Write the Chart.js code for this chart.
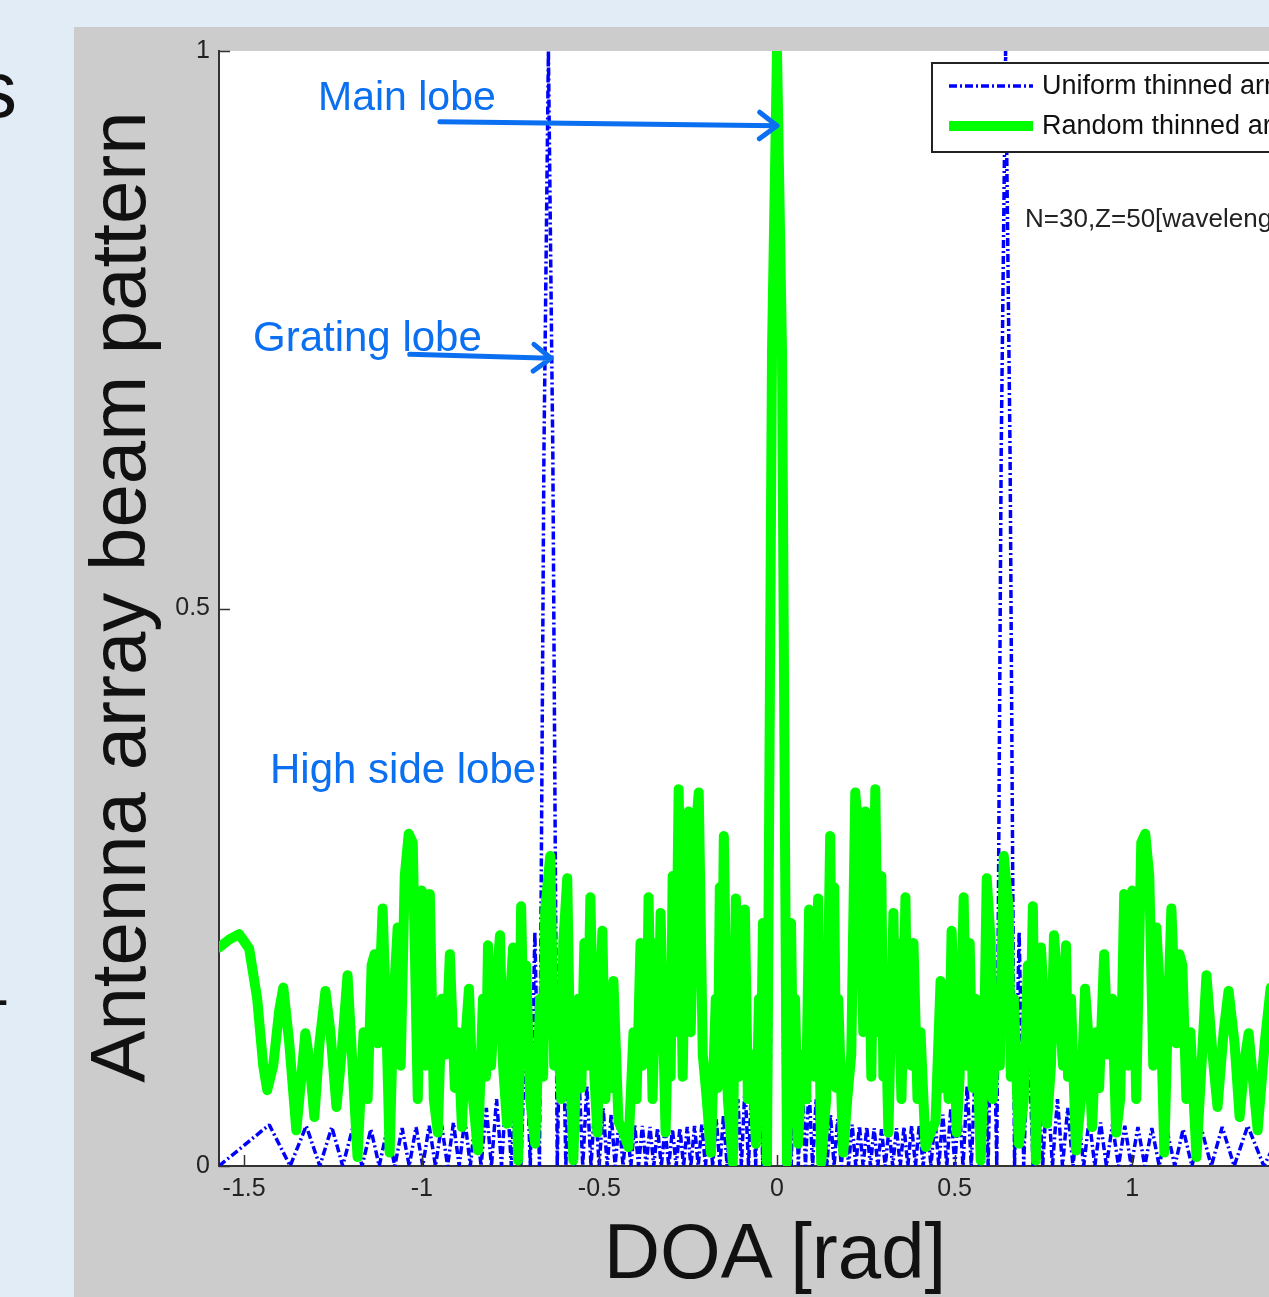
<!DOCTYPE html>
<html>
<head>
<meta charset="utf-8">
<script src="https://cdn.jsdelivr.net/npm/chart.js@4.4.1/dist/chart.umd.min.js"></script>
<style>
    html, body { margin: 0; padding: 0; overflow: hidden; }
    body {
        width: 1269px; height: 1297px; position: relative;
        background: #e2ecf6;
        font-family: "Liberation Sans", Arial, sans-serif;
    }
    #panel { position: absolute; left: 74px; top: 27px; width: 1326px; height: 1270px; background: #cccccc; }
    #beam { position: absolute; left: 0; top: 0; }
    .txt { position: absolute; white-space: nowrap; line-height: 1; }
    .note { color: #0a6ff0; }
    #ytitle {
        left: -432px; top: 558px; width: 1100px; height: 78px;
        font-size: 78px; text-align: center; color: #111;
        transform: rotate(-90deg);
    }
    #xtitle { left: 475px; top: 1212px; width: 600px; font-size: 78px; text-align: center; color: #111; }
</style>
</head>
<body>
<div class="txt" style="left:-23px; top:50px; font-size:80px; color:#111;">s</div>
<div class="txt" style="left:-11px; top:968px; font-size:60px; color:#111;">-</div>

<div id="panel">
    <canvas id="beam" width="1326" height="1270"></canvas>
</div>

<div class="txt" id="ytitle">Antenna array beam pattern</div>
<div class="txt" id="xtitle">DOA [rad]</div>
<div class="txt note" style="left:318px; top:76px; font-size:41px;">Main lobe</div>
<div class="txt note" style="left:253px; top:316px; font-size:42px;">Grating lobe</div>
<div class="txt note" style="left:270px; top:748px; font-size:42px;">High side lobe</div>
<div class="txt" style="left:1025px; top:205px; font-size:26px; color:#222;">N=30,Z=50[wavelength]</div>

<script>
// DOA axis ticks (rad) and beam pattern ticks
const doaTicks = [-1.5, -1, -0.5, 0, 0.5, 1, 1.5]
const gainTicks = [0, 0.5, 1]

// Uniform thinned array: nulls and side lobe peaks
const uniformDoa = [
    -1.5708, -1.4293, -1.3705, -1.3252, -1.2870, -1.2532, -1.2226, -1.1944, -1.1681, -1.1433,
    -1.1198, -1.0973, -1.0759, -1.0552, -1.0353, -1.0160, -0.9973, -0.9791, -0.9614, -0.9442,
    -0.9273, -0.9108, -0.8947, -0.8788, -0.8633, -0.8481, -0.8331, -0.8183, -0.8038, -0.7895,
    -0.7754, -0.7615, -0.7478, -0.7342, -0.7208, -0.7076, -0.6945, -0.6816, -0.6687, -0.6561,
    -0.6435, -0.6311, -0.6187, -0.6065, -0.5944, -0.5824, -0.5704, -0.5586, -0.5469, -0.5352,
    -0.5236, -0.5121, -0.5007, -0.4893, -0.4780, -0.4668, -0.4556, -0.4445, -0.4334, -0.4225,
    -0.4115, -0.4006, -0.3898, -0.3790, -0.3683, -0.3576, -0.3469, -0.3363, -0.3257, -0.3152,
    -0.3047, -0.2942, -0.2838, -0.2734, -0.2630, -0.2527, -0.2424, -0.2321, -0.2218, -0.2116,
    -0.2014, -0.1912, -0.1810, -0.1708, -0.1607, -0.1506, -0.1405, -0.1304, -0.1203, -0.1102,
    -0.1002, -0.0901, -0.0801, -0.0701, -0.0600, -0.0500, -0.0400, -0.0300, -0.0200, -0.0100,
    0,
    0.0100, 0.0200, 0.0300, 0.0400, 0.0500, 0.0600, 0.0701, 0.0801, 0.0901, 0.1002,
    0.1102, 0.1203, 0.1304, 0.1405, 0.1506, 0.1607, 0.1708, 0.1810, 0.1912, 0.2014,
    0.2116, 0.2218, 0.2321, 0.2424, 0.2527, 0.2630, 0.2734, 0.2838, 0.2942, 0.3047,
    0.3152, 0.3257, 0.3363, 0.3469, 0.3576, 0.3683, 0.3790, 0.3898, 0.4006, 0.4115,
    0.4225, 0.4334, 0.4445, 0.4556, 0.4668, 0.4780, 0.4893, 0.5007, 0.5121, 0.5236,
    0.5352, 0.5469, 0.5586, 0.5704, 0.5824, 0.5944, 0.6065, 0.6187, 0.6311, 0.6435,
    0.6561, 0.6687, 0.6816, 0.6945, 0.7076, 0.7208, 0.7342, 0.7478, 0.7615, 0.7754,
    0.7895, 0.8038, 0.8183, 0.8331, 0.8481, 0.8633, 0.8788, 0.8947, 0.9108, 0.9273,
    0.9442, 0.9614, 0.9791, 0.9973, 1.0160, 1.0353, 1.0552, 1.0759, 1.0973, 1.1198,
    1.1433, 1.1681, 1.1944, 1.2226, 1.2532, 1.2870, 1.3252, 1.3705, 1.4293, 1.5708
]
const uniformPattern = [
    0, 0.037, 0, 0.036, 0, 0.035, 0, 0.034, 0, 0.033,
    0, 0.033, 0, 0.034, 0, 0.035, 0, 0.036, 0, 0.037,
    0, 0.039, 0, 0.042, 0, 0.046, 0, 0.052, 0, 0.060,
    0, 0.072, 0, 0.090, 0, 0.130, 0, 0.210, 0, 0.640,
    1.000, 0.640, 0, 0.210, 0, 0.130, 0, 0.090, 0, 0.072,
    0, 0.060, 0, 0.052, 0, 0.046, 0, 0.042, 0, 0.039,
    0, 0.037, 0, 0.036, 0, 0.035, 0, 0.034, 0, 0.033,
    0, 0.033, 0, 0.034, 0, 0.035, 0, 0.036, 0, 0.037,
    0, 0.039, 0, 0.042, 0, 0.046, 0, 0.052, 0, 0.060,
    0, 0.072, 0, 0.090, 0, 0.130, 0, 0.210, 0, 0.640,
    1.000,
    0.640, 0, 0.210, 0, 0.130, 0, 0.090, 0, 0.072, 0,
    0.060, 0, 0.052, 0, 0.046, 0, 0.042, 0, 0.039, 0,
    0.037, 0, 0.036, 0, 0.035, 0, 0.034, 0, 0.033, 0,
    0.033, 0, 0.034, 0, 0.035, 0, 0.036, 0, 0.037, 0,
    0.039, 0, 0.042, 0, 0.046, 0, 0.052, 0, 0.060, 0,
    0.072, 0, 0.090, 0, 0.130, 0, 0.210, 0, 0.640, 1.000,
    0.640, 0, 0.210, 0, 0.130, 0, 0.090, 0, 0.072, 0,
    0.060, 0, 0.052, 0, 0.046, 0, 0.042, 0, 0.039, 0,
    0.037, 0, 0.036, 0, 0.035, 0, 0.034, 0, 0.033, 0,
    0.033, 0, 0.034, 0, 0.035, 0, 0.036, 0, 0.037, 0
]

// Random thinned array: peaks and dips
const randomDoa = [
    -1.5708, -1.5424, -1.5141, -1.4859, -1.4633, -1.4463, -1.4350, -1.4181, -1.4011, -1.3898,
    -1.3729, -1.3531, -1.3390, -1.3277, -1.3164, -1.3023, -1.2881, -1.2712, -1.2571, -1.2401,
    -1.2260, -1.2090, -1.1949, -1.1808, -1.1638, -1.1525, -1.1412, -1.1328, -1.1243, -1.1102,
    -1.0989, -1.0904, -1.0791, -1.0678, -1.0593, -1.0480, -1.0367, -1.0254, -1.0113, -1.0000,
    -0.9887, -0.9774, -0.9661, -0.9548, -0.9435, -0.9322, -0.9209, -0.9068, -0.8983, -0.8870,
    -0.8757, -0.8672, -0.8559, -0.8418, -0.8277, -0.8192, -0.8136, -0.8051, -0.7910, -0.7797,
    -0.7712, -0.7599, -0.7514, -0.7429, -0.7288, -0.7203, -0.7119, -0.7062, -0.6949, -0.6808,
    -0.6667, -0.6582, -0.6525, -0.6384, -0.6271, -0.6158, -0.6073, -0.6017, -0.5904, -0.5819,
    -0.5734, -0.5593, -0.5508, -0.5424, -0.5339, -0.5254, -0.5141, -0.5056, -0.4972, -0.4915,
    -0.4831, -0.4718, -0.4661, -0.4605, -0.4463, -0.4322, -0.4181, -0.4040, -0.3955, -0.3842,
    -0.3785, -0.3729, -0.3672, -0.3616, -0.3503, -0.3390, -0.3333, -0.3277, -0.3136, -0.3051,
    -0.2994, -0.2938, -0.2853, -0.2768, -0.2655, -0.2571, -0.2486, -0.2429, -0.2373, -0.2288,
    -0.2203, -0.2090, -0.1977, -0.1864, -0.1723, -0.1667, -0.1610, -0.1554, -0.1497, -0.1384,
    -0.1243, -0.1158, -0.1073, -0.1017, -0.0960, -0.0904, -0.0819, -0.0706, -0.0593, -0.0508,
    -0.0452, -0.0395, -0.0282, -0.0141, 0,
    0.0141, 0.0282, 0.0395, 0.0452,
    0.0508, 0.0593, 0.0706, 0.0819, 0.0904, 0.0960, 0.1017, 0.1073, 0.1158, 0.1243,
    0.1384, 0.1497, 0.1554, 0.1610, 0.1667, 0.1723, 0.1864, 0.1977, 0.2090, 0.2203,
    0.2288, 0.2373, 0.2429, 0.2486, 0.2571, 0.2655, 0.2768, 0.2853, 0.2938, 0.2994,
    0.3051, 0.3136, 0.3277, 0.3333, 0.3390, 0.3503, 0.3616, 0.3672, 0.3729, 0.3785,
    0.3842, 0.3955, 0.4040, 0.4181, 0.4322, 0.4463, 0.4605, 0.4661, 0.4718, 0.4831,
    0.4915, 0.4972, 0.5056, 0.5141, 0.5254, 0.5339, 0.5424, 0.5508, 0.5593, 0.5734,
    0.5819, 0.5904, 0.6017, 0.6073, 0.6158, 0.6271, 0.6384, 0.6525, 0.6582, 0.6667,
    0.6808, 0.6949, 0.7062, 0.7119, 0.7203, 0.7288, 0.7429, 0.7514, 0.7599, 0.7712,
    0.7797, 0.7910, 0.8051, 0.8136, 0.8192, 0.8277, 0.8418, 0.8559, 0.8672, 0.8757,
    0.8870, 0.8983, 0.9068, 0.9209, 0.9322, 0.9435, 0.9548, 0.9661, 0.9774, 0.9887,
    1.0000, 1.0113, 1.0254, 1.0367, 1.0480, 1.0593, 1.0678, 1.0791, 1.0904, 1.0989,
    1.1102, 1.1243, 1.1328, 1.1412, 1.1525, 1.1638, 1.1808, 1.1949, 1.2090, 1.2260,
    1.2401, 1.2571, 1.2712, 1.2881, 1.3023, 1.3164, 1.3277, 1.3390, 1.3531, 1.3729,
    1.3898, 1.4011, 1.4181, 1.4350, 1.4463, 1.4633, 1.4859, 1.5141, 1.5424, 1.5708
]
const randomPattern = [
    0.196, 0.203, 0.208, 0.195, 0.150, 0.090, 0.068, 0.090, 0.140, 0.160,
    0.110, 0.032, 0.080, 0.119, 0.095, 0.044, 0.110, 0.157, 0.120, 0.053,
    0.100, 0.171, 0.090, 0.008, 0.120, 0.060, 0.180, 0.190, 0.110, 0.231,
    0.120, 0.012, 0.150, 0.214, 0.090, 0.260, 0.298, 0.290, 0.060, 0.247,
    0.090, 0.244, 0.060, 0.030, 0.150, 0.100, 0.190, 0.070, 0.120, 0.035,
    0.120, 0.159, 0.060, 0.014, 0.150, 0.080, 0.198, 0.090, 0.160, 0.207,
    0.090, 0.038, 0.150, 0.196, 0.005, 0.233, 0.100, 0.180, 0.060, 0.020,
    0.150, 0.080, 0.230, 0.278, 0.090, 0.120, 0.060, 0.200, 0.258, 0.090,
    0.005, 0.150, 0.070, 0.200, 0.090, 0.241, 0.080, 0.030, 0.160, 0.211,
    0.060, 0.140, 0.070, 0.166, 0.040, 0.030, 0.017, 0.120, 0.060, 0.200,
    0.090, 0.170, 0.100, 0.241, 0.060, 0.200, 0.110, 0.227, 0.030, 0.150,
    0.080, 0.260, 0.120, 0.338, 0.080, 0.250, 0.318, 0.120, 0.200, 0.300,
    0.335, 0.100, 0.060, 0.012, 0.150, 0.070, 0.250, 0.120, 0.296, 0.060,
    0.003, 0.240, 0.080, 0.170, 0.090, 0.230, 0.060, 0.100, 0.020, 0.150,
    0.080, 0.218, 0.003, 0.730, 1.000,
    0.730, 0.003, 0.218, 0.080,
    0.150, 0.020, 0.100, 0.060, 0.230, 0.090, 0.170, 0.080, 0.240, 0.003,
    0.060, 0.296, 0.120, 0.250, 0.070, 0.150, 0.012, 0.060, 0.100, 0.335,
    0.300, 0.200, 0.120, 0.318, 0.250, 0.080, 0.338, 0.120, 0.260, 0.080,
    0.150, 0.030, 0.227, 0.110, 0.200, 0.060, 0.241, 0.100, 0.170, 0.090,
    0.200, 0.060, 0.120, 0.017, 0.030, 0.040, 0.166, 0.070, 0.140, 0.060,
    0.211, 0.160, 0.030, 0.080, 0.241, 0.090, 0.200, 0.070, 0.150, 0.005,
    0.090, 0.258, 0.200, 0.060, 0.120, 0.090, 0.278, 0.230, 0.080, 0.150,
    0.020, 0.060, 0.180, 0.100, 0.233, 0.005, 0.196, 0.150, 0.038, 0.090,
    0.207, 0.160, 0.090, 0.198, 0.080, 0.150, 0.014, 0.060, 0.159, 0.120,
    0.035, 0.120, 0.070, 0.190, 0.100, 0.150, 0.030, 0.060, 0.244, 0.090,
    0.247, 0.060, 0.290, 0.298, 0.260, 0.090, 0.214, 0.150, 0.012, 0.120,
    0.231, 0.110, 0.190, 0.180, 0.060, 0.120, 0.008, 0.090, 0.171, 0.100,
    0.053, 0.120, 0.157, 0.110, 0.044, 0.095, 0.119, 0.080, 0.032, 0.110,
    0.160, 0.140, 0.090, 0.068, 0.090, 0.150, 0.195, 0.208, 0.203, 0.196
]

// annotation arrows, in data units (DOA, gain)
const arrows = [
    { from: [-0.949, 0.9365], to: [0.0, 0.933] },
    { from: [-1.034, 0.728], to: [-0.636, 0.7245] }
]

const beamChart = {
    noteColor: '#0a6ff0',

    init: function () {
        Chart.defaults.font.family = '"Liberation Sans", Arial, sans-serif'
        Chart.defaults.color = '#222'
        this.initChart()
    },

    points: function (xs, ys) {
        return xs.map((x, i) => ({ x: x, y: ys[i] }))
    },

    drawTicks: function (chart) {
        const { ctx, chartArea } = chart
        const xs = chart.scales.x
        const ys = chart.scales.y
        ctx.save()
        ctx.strokeStyle = '#333'
        ctx.lineWidth = 1.5
        ctx.beginPath()
        gainTicks.forEach(v => {
            const y = Math.round(ys.getPixelForValue(v)) + 0.5
            ctx.moveTo(chartArea.left, y)
            ctx.lineTo(chartArea.left + 11, y)
        })
        doaTicks.forEach(v => {
            const x = Math.round(xs.getPixelForValue(v)) + 0.5
            ctx.moveTo(x, chartArea.bottom)
            ctx.lineTo(x, chartArea.bottom - 11)
        })
        ctx.stroke()
        ctx.restore()
    },

    drawArrows: function (chart) {
        const ctx = chart.ctx
        const xs = chart.scales.x
        const ys = chart.scales.y
        ctx.save()
        ctx.strokeStyle = this.noteColor
        ctx.lineWidth = 5
        ctx.lineCap = 'round'
        ctx.lineJoin = 'round'
        arrows.forEach(a => {
            const x0 = xs.getPixelForValue(a.from[0])
            const y0 = ys.getPixelForValue(a.from[1])
            const x1 = xs.getPixelForValue(a.to[0])
            const y1 = ys.getPixelForValue(a.to[1])
            const ang = Math.atan2(y1 - y0, x1 - x0)
            const head = 22
            const spread = 0.65
            ctx.beginPath()
            ctx.moveTo(x0, y0)
            ctx.lineTo(x1, y1)
            ctx.moveTo(x1 - head * Math.cos(ang - spread), y1 - head * Math.sin(ang - spread))
            ctx.lineTo(x1, y1)
            ctx.lineTo(x1 - head * Math.cos(ang + spread), y1 - head * Math.sin(ang + spread))
            ctx.stroke()
        })
        ctx.restore()
    },

    drawLegend: function (chart) {
        const ctx = chart.ctx
        const box = { left: 858, top: 36, width: 430, height: 89 }
        ctx.save()
        ctx.fillStyle = '#ffffff'
        ctx.fillRect(box.left, box.top, box.width, box.height)
        ctx.strokeStyle = '#222'
        ctx.lineWidth = 2
        ctx.strokeRect(box.left, box.top, box.width, box.height)
        ctx.font = '27px "Liberation Sans", Arial, sans-serif'
        ctx.textBaseline = 'middle'
        chart.data.datasets.forEach((ds, i) => {
            const y = box.top + 23 + i * 40
            ctx.beginPath()
            ctx.strokeStyle = ds.borderColor
            ctx.lineWidth = ds.borderWidth
            ctx.setLineDash(ds.borderDash || [])
            ctx.moveTo(box.left + 17, y)
            ctx.lineTo(box.left + 101, y)
            ctx.stroke()
            ctx.setLineDash([])
            ctx.fillStyle = '#111'
            ctx.fillText(ds.label, box.left + 110, y + 1)
        })
        ctx.restore()
    },

    initChart: function () {
        const self = this
        const ctx = document.getElementById('beam')
        this.chart = new Chart(ctx, {
            type: 'line',
            data: {
                datasets: [
                    {
                        label: 'Uniform thinned array',
                        data: this.points(uniformDoa, uniformPattern),
                        borderColor: '#0000ff',
                        borderWidth: 3.5,
                        borderDash: [8, 3, 2, 3],
                        borderJoinStyle: 'bevel',
                        pointRadius: 0,
                        tension: 0,
                        clip: 0,
                        order: 1
                    },
                    {
                        label: 'Random thinned array',
                        data: this.points(randomDoa, randomPattern),
                        borderColor: '#00ff00',
                        borderWidth: 10,
                        borderJoinStyle: 'round',
                        borderCapStyle: 'round',
                        pointRadius: 0,
                        tension: 0,
                        clip: 0,
                        order: 0
                    }
                ]
            },
            options: {
                responsive: false,
                animation: false,
                events: [],
                layout: { padding: { top: 21, right: 65, left: 0, bottom: 0 } },
                plugins: {
                    legend: { display: false },
                    tooltip: { enabled: false }
                },
                scales: {
                    x: {
                        type: 'linear',
                        min: -Math.PI / 2,
                        max: Math.PI / 2,
                        z: 1,
                        grid: { display: false, drawTicks: false },
                        border: { display: true, color: '#333', width: 2 },
                        afterBuildTicks: s => { s.ticks = doaTicks.map(v => ({ value: v })) },
                        afterFit: s => { s.height = 131 },
                        ticks: {
                            autoSkip: false,
                            maxRotation: 0,
                            padding: 8,
                            font: { size: 25 },
                            color: '#222',
                            callback: v => String(v)
                        }
                    },
                    y: {
                        min: 0,
                        max: 1,
                        z: 1,
                        grid: { display: false, drawTicks: false },
                        border: { display: true, color: '#333', width: 2 },
                        afterBuildTicks: s => { s.ticks = gainTicks.map(v => ({ value: v })) },
                        afterFit: s => { s.width = 145 },
                        ticks: {
                            autoSkip: false,
                            padding: 9,
                            font: { size: 25 },
                            color: '#222',
                            callback: v => String(v)
                        }
                    }
                }
            },
            plugins: [{
                id: 'beamDecor',
                beforeDraw: chart => {
                    const a = chart.chartArea
                    chart.ctx.save()
                    chart.ctx.fillStyle = '#ffffff'
                    chart.ctx.fillRect(a.left, a.top, a.right - a.left, a.bottom - a.top)
                    chart.ctx.restore()
                },
                afterDraw: chart => {
                    self.drawTicks(chart)
                    self.drawArrows(chart)
                    self.drawLegend(chart)
                }
            }]
        })
    }
}

beamChart.init()
</script>
</body>
</html>
